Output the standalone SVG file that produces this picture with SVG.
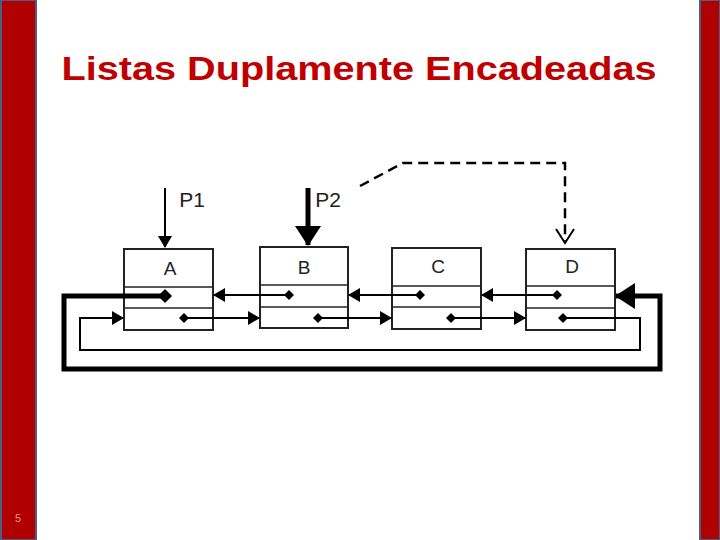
<svg xmlns="http://www.w3.org/2000/svg" width="720" height="540" viewBox="0 0 720 540">
<style>
.box{fill:#fff;stroke:#222;stroke-width:2}
.div{stroke:#222;stroke-width:1.5}
.lbl{font-family:"Liberation Sans",Arial,sans-serif;font-size:19px;fill:#222;text-anchor:middle}
.ln{fill:none;stroke:#000;stroke-width:2}
</style>
<defs>
<marker id="ah" markerWidth="8" markerHeight="8" refX="7" refY="4" orient="auto" markerUnits="userSpaceOnUse" viewBox="0 0 8 8"><path d="M0,0 L8,4 L0,8 Z" fill="#000"/></marker>
<marker id="ahm" markerWidth="12" markerHeight="14" refX="11" refY="7" orient="auto" markerUnits="userSpaceOnUse" viewBox="0 0 12 14"><path d="M0,0 L12,7 L0,14 Z" fill="#000"/></marker>
<marker id="ahb" markerWidth="20" markerHeight="26" refX="19" refY="13" orient="auto" markerUnits="userSpaceOnUse" viewBox="0 0 20 26"><path d="M0,0 L20,13 L0,26 Z" fill="#000"/></marker>
<marker id="dot" markerWidth="10" markerHeight="10" refX="5" refY="5" markerUnits="userSpaceOnUse" viewBox="0 0 10 10"><path d="M5,0 L10,5 L5,10 L0,5 Z" fill="#000"/></marker>
<marker id="dotb" markerWidth="14" markerHeight="14" refX="7" refY="7" markerUnits="userSpaceOnUse" viewBox="0 0 14 14"><path d="M7,0 L14,7 L7,14 L0,7 Z" fill="#000"/></marker>
<marker id="open" markerWidth="20" markerHeight="20" refX="10" refY="18" orient="0" markerUnits="userSpaceOnUse" viewBox="0 0 20 20"><path d="M1,4 L10,18 L19,4" fill="none" stroke="#000" stroke-width="2"/></marker>
</defs>
<rect x="0" y="0" width="720" height="540" fill="#fff"/>
<rect x="1" y="0" width="35" height="540" fill="#b00000" stroke="#4a5f88" stroke-width="2"/>
<rect x="700" y="0" width="20" height="540" fill="#b00000" stroke="#4a5f88" stroke-width="2"/>
<text x="18" y="522" font-family="Liberation Sans,Arial,sans-serif" font-size="11" fill="#e89090" text-anchor="middle">5</text>
<text x="359" y="80" font-family="Liberation Sans,Arial,sans-serif" font-size="34" font-weight="bold" fill="#c00000" text-anchor="middle" textLength="595" lengthAdjust="spacingAndGlyphs">Listas Duplamente Encadeadas</text>
<g id="nodeA"><rect class="box" x="124" y="249" width="89" height="81"/><line class="div" x1="124" y1="287" x2="213" y2="287"/><line class="div" x1="124" y1="308" x2="213" y2="308"/><text class="lbl" x="170" y="275">A</text></g>
<g id="nodeB"><rect class="box" x="260" y="247" width="88" height="81"/><line class="div" x1="260" y1="285" x2="348" y2="285"/><line class="div" x1="260" y1="307" x2="348" y2="307"/><text class="lbl" x="304" y="274">B</text></g>
<g id="nodeC"><rect class="box" x="392" y="248" width="89" height="81"/><line class="div" x1="392" y1="286" x2="481" y2="286"/><line class="div" x1="392" y1="307" x2="481" y2="307"/><text class="lbl" x="438" y="273">C</text></g>
<g id="nodeD"><rect class="box" x="526" y="249" width="89" height="81"/><line class="div" x1="526" y1="286" x2="615" y2="286"/><line class="div" x1="526" y1="308" x2="615" y2="308"/><text class="lbl" x="572" y="273">D</text></g>
<g id="labels"><text x="192" y="207" font-family="Liberation Sans,Arial,sans-serif" font-size="21" fill="#222" text-anchor="middle">P1</text><text x="328" y="207" font-family="Liberation Sans,Arial,sans-serif" font-size="21" fill="#222" text-anchor="middle">P2</text></g>
<g id="connectors">
<line class="ln" x1="165" y1="188" x2="165" y2="247" marker-end="url(#ahm)"/>
<line x1="308" y1="188" x2="308" y2="245" stroke="#000" stroke-width="5" marker-end="url(#ahb)"/>
<polyline fill="none" stroke="#000" stroke-width="2.5" stroke-dasharray="10,6" points="360,186 403,163 565,163 565,243" marker-end="url(#open)"/>
<line class="ln" x1="289" y1="295" x2="214" y2="295" marker-start="url(#dot)" marker-end="url(#ahm)"/>
<line class="ln" x1="420" y1="295" x2="349" y2="295" marker-start="url(#dot)" marker-end="url(#ahm)"/>
<line class="ln" x1="557" y1="295" x2="482" y2="295" marker-start="url(#dot)" marker-end="url(#ahm)"/>
<line class="ln" x1="184" y1="318" x2="259" y2="318" marker-start="url(#dot)" marker-end="url(#ahm)"/>
<line class="ln" x1="318" y1="318" x2="391" y2="318" marker-start="url(#dot)" marker-end="url(#ahm)"/>
<line class="ln" x1="451" y1="318" x2="525" y2="318" marker-start="url(#dot)" marker-end="url(#ahm)"/>
<polyline class="ln" points="563,318 640,318 640,350 80,350 80,318 123,318" marker-start="url(#dot)" marker-end="url(#ahm)"/>
<polyline fill="none" stroke="#000" stroke-width="5" points="165,296 64,296 64,369 660,369 660,296 616,296" marker-start="url(#dotb)" marker-end="url(#ahb)"/>
</g>
</svg>
